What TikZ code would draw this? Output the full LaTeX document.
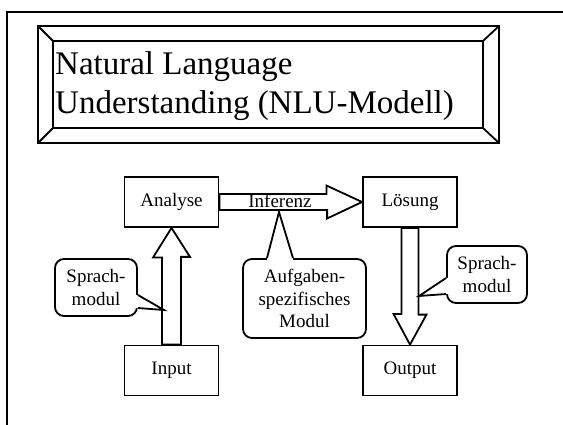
\documentclass[tikz,border=0pt]{standalone}
\usepackage{fontspec}
\setmainfont{Liberation Serif}
\usetikzlibrary{positioning,calc}
\tikzset{
    box/.style={rectangle, draw, line width=1.8pt, minimum width=94pt, minimum height=50pt, inner sep=0pt, font=\fontsize{19}{22}\selectfont},
    bubble/.style={rectangle, draw, rounded corners=9pt, line width=1.8pt, fill=white, inner sep=0pt, align=center, font=\fontsize{19}{22.5}\selectfont},
    block arrow/.style={draw, line width=1.8pt, fill=white, line join=miter},
    pointer/.style={line width=1.8pt, line join=miter},
    bevel/.style={line width=1.8pt},
    frame line/.style={line width=2pt},
    title text/.style={font=\fontsize{33}{39}\selectfont, align=left, anchor=west, inner sep=0pt},
    arrow label/.style={font=\fontsize{19}{22}\selectfont, inner sep=0pt}
}

\begin{document}
\begin{tikzpicture}[x=1pt, y=-1pt]
    \useasboundingbox (0,0) rectangle (563,425);

    % slide frame
    \draw[frame line] (7,425) -- (7,12) -- (563,12);

    % bevelled title frame
    \draw[bevel] (38,26) rectangle (499,143);
    \draw[bevel] (53,41) rectangle (483,128);
    \draw[bevel] (38,26) -- (53,41) (499,26) -- (483,41) (38,143) -- (53,128) (499,143) -- (483,128);
    \node[title text] (title) at (55,86) {Natural Language\\Understanding (NLU-Modell)};

    % boxes
    \node[box] (analyse) at (171.5,202) {Analyse};
    \node[box] (loesung) at (410,202) {Lösung};
    \node[box] (input) at (171.5,370.5) {Input};
    \node[box] (output) at (410,370.5) {Output};

    % Input -> Analyse
    \draw[block arrow] ($(input.north)+(-9.5,0)$) -- ++(0,-87) -- ++(-9,0) -- (analyse.south)
        -- ($(analyse.south)+(18.5,29)$) -- ++(-9,0) -- ($(input.north)+(9.5,0)$) -- cycle;

    % Analyse -> Loesung
    \draw[block arrow] ($(analyse.east)+(0,-8)$) -- ++(107,0) -- ++(0,-8.5) -- (loesung.west)
        -- ($(loesung.west)+(-35,16.5)$) -- ++(0,-8.5) -- ($(analyse.east)+(0,8)$) -- cycle;
    \node[arrow label] (inferenz) at (280,201) {Inferenz};

    % Loesung -> Output
    \draw[block arrow] ($(loesung.south)+(-8.5,0)$) -- ++(0,86) -- ++(-8,0) -- (output.north)
        -- ($(output.north)+(16.5,-30)$) -- ++(-8,0) -- ($(loesung.south)+(8.5,0)$) -- cycle;

    % callouts
    \node[bubble, minimum width=82pt, minimum height=57pt] (sprachL) at (96,287.5) {Sprach-\\modul};
    \coordinate (tipL) at (164,310);
    \fill[white] ($(sprachL.east)+(-2,7.5)$) -- ++(2,0) -- (tipL) -- ($(sprachL.east)+(0,20.5)$) -- ++(-2,0) -- cycle;
    \draw[pointer] ($(sprachL.east)+(0,7.5)$) -- (tipL) -- ($(sprachL.east)+(0,20.5)$);

    \node[bubble, minimum width=123pt, minimum height=79pt] (aufgabe) at (304.5,298.5) {Aufgaben-\\spezifisches\\Modul};
    \coordinate (tipM) at (279,212);
    \fill[white] ($(aufgabe.north)+(-37.5,2)$) -- ++(0,-2) -- (tipM) -- ($(aufgabe.north)+(-11.5,0)$) -- ++(0,2) -- cycle;
    \draw[pointer] ($(aufgabe.north)+(-37.5,0)$) -- (tipM) -- ($(aufgabe.north)+(-11.5,0)$);

    \node[bubble, minimum width=80pt, minimum height=57pt] (sprachR) at (487,274.5) {Sprach-\\modul};
    \coordinate (tipR) at (419,296);
    \fill[white] ($(sprachR.west)+(2,3.5)$) -- ++(-2,0) -- (tipR) -- ($(sprachR.west)+(0,19.5)$) -- ++(2,0) -- cycle;
    \draw[pointer] ($(sprachR.west)+(0,3.5)$) -- (tipR) -- ($(sprachR.west)+(0,19.5)$);
\end{tikzpicture}
\end{document}
